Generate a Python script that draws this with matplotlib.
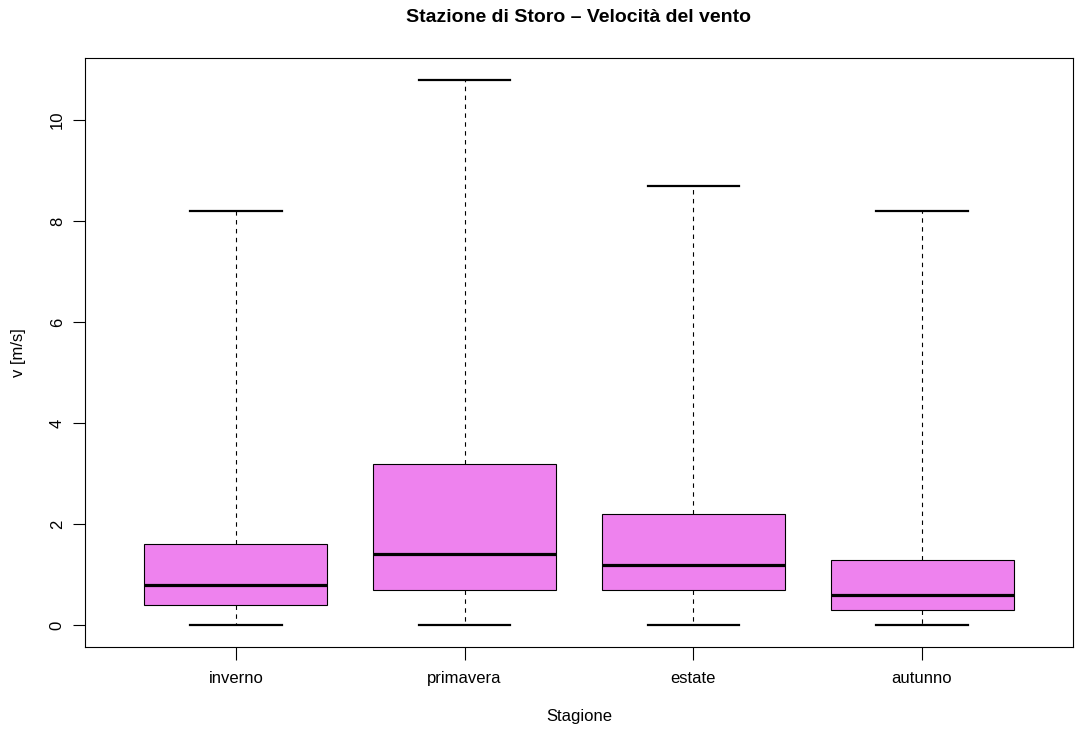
import matplotlib
matplotlib.use("Agg")
import matplotlib.pyplot as plt

# dati
stagioni = ["inverno", "primavera", "estate", "autunno"]
minimo = [0.0, 0.0, 0.0, 0.0]
q1 = [0.4, 0.7, 0.7, 0.3]
mediana = [0.8, 1.4, 1.2, 0.6]
q3 = [1.6, 3.2, 2.2, 1.3]
massimo = [8.2, 10.8, 8.7, 8.2]

plt.rcParams["font.family"] = ["Liberation Sans", "DejaVu Sans"]

fig = plt.figure(figsize=(10.75, 7.36), dpi=100)
ax = fig.add_axes([85 / 1075, 89 / 736, 988 / 1075, 589 / 736])

stats = []
for i in range(len(stagioni)):
    stats.append({"label": stagioni[i], "whislo": minimo[i], "q1": q1[i], "med": mediana[i],
                  "q3": q3[i], "whishi": massimo[i], "fliers": []})

ax.bxp(stats, positions=range(1, len(stagioni) + 1), widths=0.8, capwidths=0.4,
       patch_artist=True, showfliers=False,
       boxprops=dict(facecolor="violet", edgecolor="black", linewidth=0.8),
       medianprops=dict(color="black", linewidth=2.3),
       whiskerprops=dict(color="black", linewidth=0.8, linestyle=(0, (4, 4))),
       capprops=dict(color="black", linewidth=1.6))

ax.set_xlim(0.34, 4.66)
ax.set_ylim(-0.432, 11.232)
ax.set_yticks([0, 2, 4, 6, 8, 10])
ax.set_yticklabels(["0", "2", "4", "6", "8", "10"], rotation=90, va="center")
ax.tick_params(axis="both", direction="out", length=9, width=0.8, labelsize=12, pad=8)
ax.tick_params(axis="y", pad=5.5)

for s in ax.spines.values():
    s.set_linewidth(0.8)

fig.text(0.5 * (85 + 1073) / 1075, 1 - 18 / 736, "Stazione di Storo \u2013 Velocit\u00e0 del vento",
         ha="center", va="center", fontsize=14, fontweight="bold")
fig.text(0.5 * (85 + 1073) / 1075, 1 - 717 / 736, "Stagione", ha="center", va="center", fontsize=12)
fig.text(18 / 1075, 1 - (58 + 647) / 2 / 736, "v [m/s]", ha="center", va="center", fontsize=12, rotation=90)

fig.savefig("out.png", dpi=100)
